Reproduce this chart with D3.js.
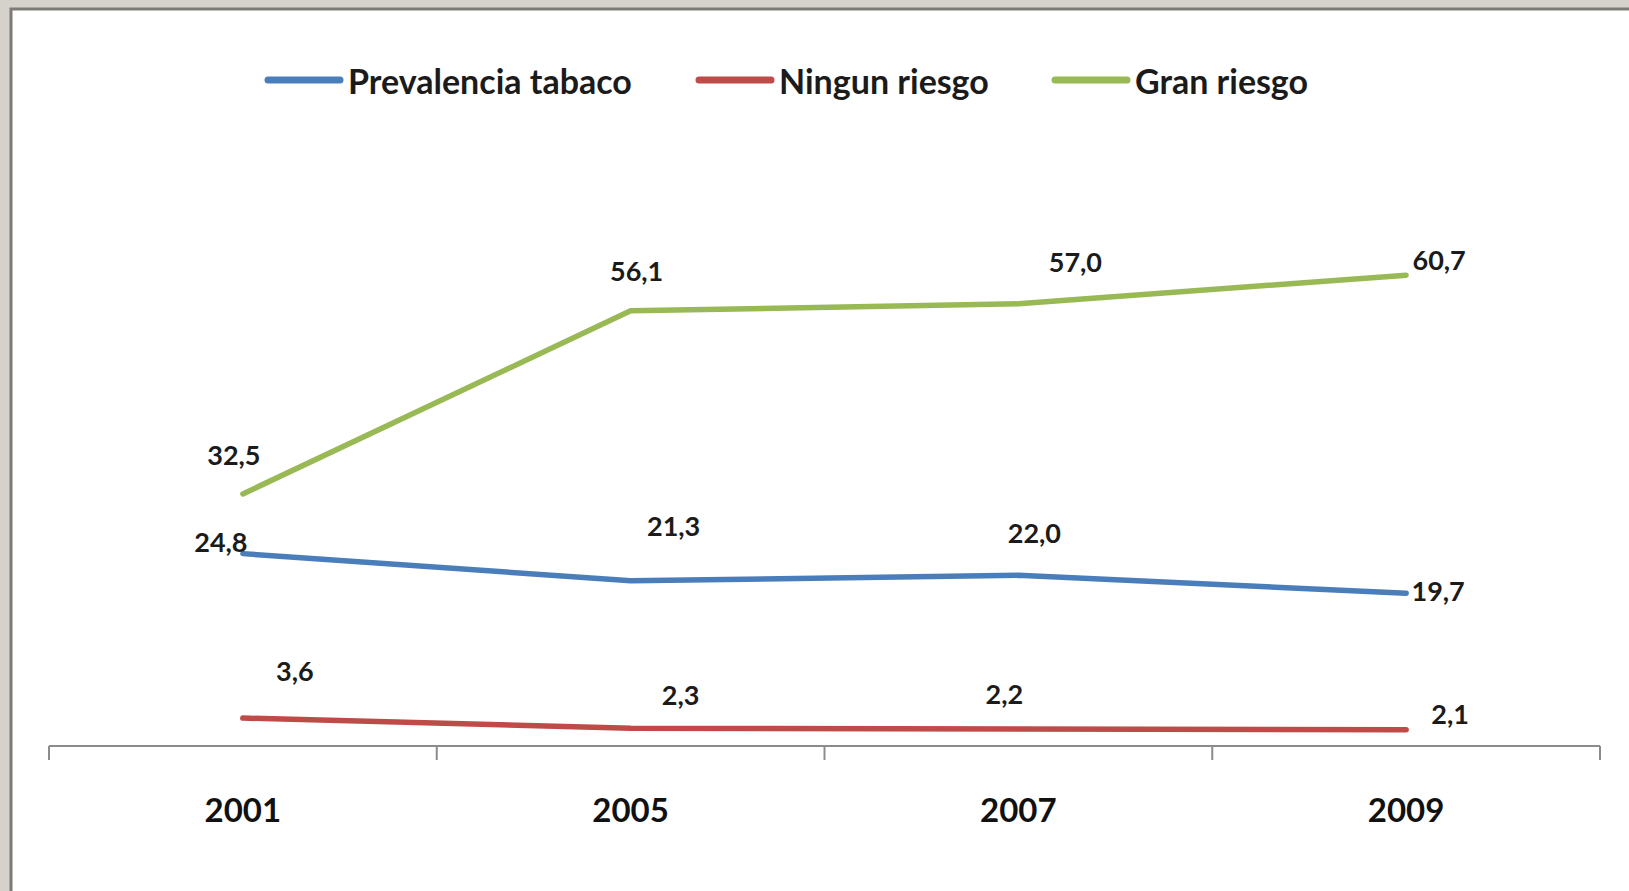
<!DOCTYPE html>
<html>
<head>
<meta charset="utf-8">
<script src="https://cdn.jsdelivr.net/npm/d3@7"></script>
<style>
  body { margin: 0; background: #d5d2cb; }
  svg { display: block; }
  .lbl { font-family: Lato, "Open Sans", sans-serif; font-weight: bold; font-size: 27px; fill: #1b1b1b; }
  .leg { font-family: Lato, "Open Sans", sans-serif; font-weight: bold; font-size: 34px; fill: #1b1b1b; }
  .x.axis text { font-family: Lato, "Open Sans", sans-serif; font-weight: bold; font-size: 33px; fill: #111; }
</style>
</head>
<body>
<div id="svgDiv"></div>
<script>
var W = 1629, H = 891;

var years = ['2001', '2005', '2007', '2009'];
var seriesNames = ['Prevalencia tabaco', 'Ningun riesgo', 'Gran riesgo'];
var tabaco = [24.8, 21.3, 22.0, 19.7];
var ningun = [3.6, 2.3, 2.2, 2.1];
var gran = [32.5, 56.1, 57.0, 60.7];

var colors = ['#4a7ebb', '#be4b48', '#98b954'];

// label offsets (dx, dy) from each point, as placed in the original
var offsets = [
  [[-22, -12], [43, -55], [16, -43], [32, -3]],
  [[52, -48], [50, -34], [-14, -35], [44, -16]],
  [[-9, -39], [6, -40], [57, -42], [33, -16]]
];

var margin = {top: 203, left: 49, right: 29, bottom: 145};

var svg = d3.select('#svgDiv').append('svg')
    .attr('width', W)
    .attr('height', H);

// white panel with dark edge
svg.append('rect')
    .attr('x', 11).attr('y', 9)
    .attr('width', W).attr('height', H)
    .attr('fill', '#fff');
svg.append('path')
    .attr('d', 'M11,' + H + 'V9H' + W)
    .attr('fill', 'none')
    .attr('stroke', '#7d7b77')
    .attr('stroke-width', 3);

var x = d3.scaleBand()
    .domain(years)
    .range([margin.left, W - margin.right]);

var y = d3.scaleLinear()
    .domain([0, 70])
    .range([H - margin.bottom, margin.top]);

var cx = function(d, i) { return x(years[i]) + x.bandwidth() / 2; };

// axis
var xAxis = d3.axisBottom(x).tickSize(0).tickPadding(53);
var gx = svg.append('g')
    .attr('class', 'x axis')
    .attr('transform', 'translate(0,' + y(0) + ')')
    .call(xAxis);
gx.select('.domain').remove();
gx.append('line')
    .attr('x1', x.range()[0]).attr('x2', x.range()[1])
    .attr('stroke', '#8c8c8c').attr('stroke-width', 2);
gx.selectAll('line.tk')
    .data(years.concat(['end']))
    .enter().append('line')
    .attr('class', 'tk')
    .attr('x1', function(d, i) { return i < years.length ? x(d) : x.range()[1]; })
    .attr('x2', function(d, i) { return i < years.length ? x(d) : x.range()[1]; })
    .attr('y1', 0).attr('y2', 14)
    .attr('stroke', '#8c8c8c').attr('stroke-width', 2);

var series = [tabaco, ningun, gran];

var line = d3.line()
    .x(cx)
    .y(function(d) { return y(d); });

series.forEach(function(vals, s) {
  svg.append('path')
    .datum(vals)
    .attr('d', line)
    .attr('fill', 'none')
    .attr('stroke', colors[s])
    .attr('stroke-width', 5.5)
    .attr('stroke-linecap', 'round')
    .attr('stroke-linejoin', 'round');
});

series.forEach(function(vals, s) {
  svg.selectAll('text.lbl' + s)
    .data(vals)
    .enter().append('text')
    .attr('class', 'lbl lbl' + s)
    .attr('text-anchor', 'middle')
    .attr('dominant-baseline', 'central')
    .attr('x', function(d, i) { return cx(d, i) + offsets[s][i][0]; })
    .attr('y', function(d, i) { return y(d) + offsets[s][i][1]; })
    .text(function(d) { return d3.format('.1f')(d).replace('.', ','); });
});

// legend
var legX = [268, 699, 1055];
var leg = svg.selectAll('g.leg')
    .data(seriesNames)
    .enter().append('g')
    .attr('transform', function(d, i) { return 'translate(' + legX[i] + ',80)'; });
leg.append('line')
    .attr('x1', 0).attr('x2', 72)
    .attr('stroke', function(d, i) { return colors[i]; })
    .attr('stroke-width', 7)
    .attr('stroke-linecap', 'round');
leg.append('text')
    .attr('class', 'leg')
    .attr('x', 80)
    .attr('dominant-baseline', 'central')
    .text(function(d) { return d; });
</script>
</body>
</html>
